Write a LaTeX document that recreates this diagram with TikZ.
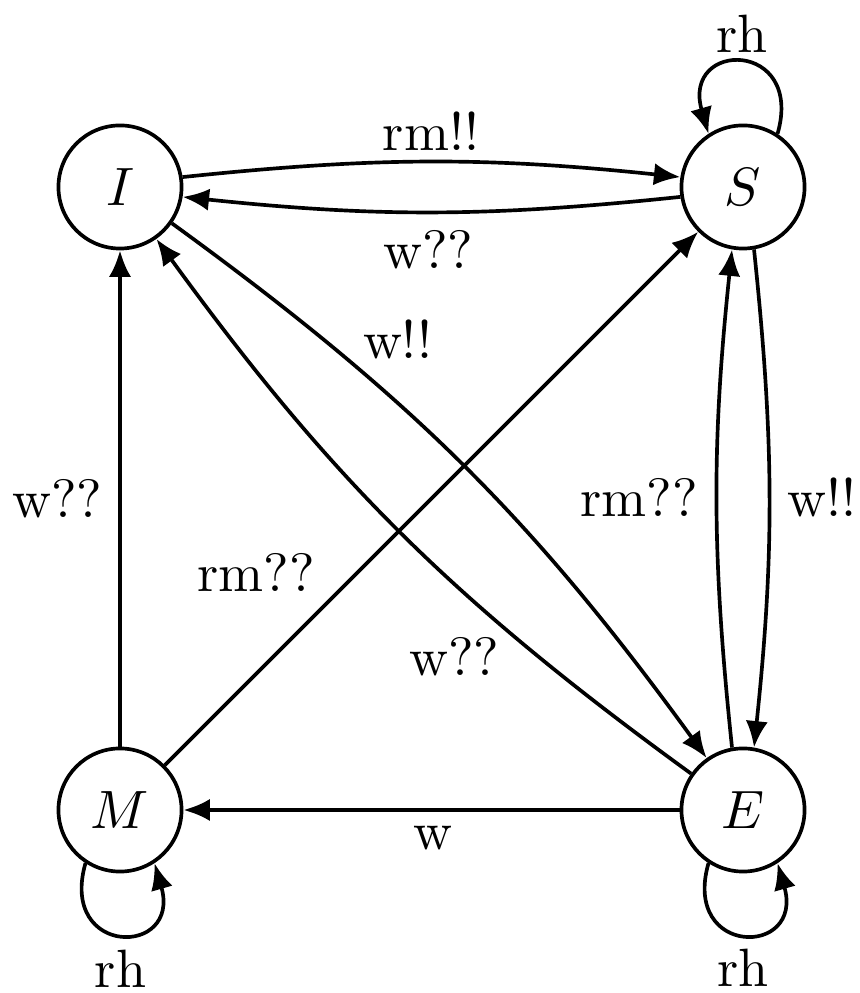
\documentclass[tikz,border=0pt]{standalone}
\usetikzlibrary{arrows.meta}
\begin{document}
\begin{tikzpicture}[x=0.1852pt,y=0.1852pt,line width=0.68pt,
  state/.style={circle,draw,minimum size=22.8pt,inner sep=0pt},
  edge/.style={-{Latex[length=4.9pt,width=4.1pt]}},
  lbl/.style={inner sep=0pt}]
\useasboundingbox (0,0) rectangle (859,993);

% states
\node[state] (I) at (120,806) {$I$};
\node[state] (S) at (743,806) {$S$};
\node[state] (M) at (120,183) {$M$};
\node[state] (E) at (743,183) {$E$};

% transitions between states
\draw[edge] (I.9)   to[bend left=6] (S.171);
\draw[edge] (S.189) to[bend left=6] (I.351);
\draw[edge] (S.-80) to[bend left=6] (E.80);
\draw[edge] (E.100) to[bend left=6] (S.260);
\draw[edge] (I.-35) to[bend left=9] (E.125);
\draw[edge] (E.145) to[bend left=9] (I.-55);
\draw[edge] (M.45) -- (S.225);
\draw[edge] (M) -- (I);
\draw[edge] (E) -- (M);

% self loops
\draw[edge] (S.57)  .. controls +(74:98)  and +(106:98) .. (S.123);
\draw[edge] (M.237) .. controls +(254:98) and +(286:98) .. (M.303);
\draw[edge] (E.237) .. controls +(254:98) and +(286:98) .. (E.303);

% transition labels
\node[lbl] (tIS) at (431,862)   {rm!!};
\node[lbl] (tSI) at (428,743)   {w??};
\node[lbl] (tIE) at (397.5,654) {w!!};
\node[lbl] (tEI) at (454,336.5) {w??};
\node[lbl] (tMI) at (57.5,494)  {w??};
\node[lbl] (tMS) at (256,421)   {rm??};
\node[lbl] (tES) at (639,495.5) {rm??};
\node[lbl] (tSE) at (821.5,495.5) {w!!};
\node[lbl] (tEM) at (433,154.5) {w};
\node[lbl] (tSS) at (742,959.5) {rh};
\node[lbl] (tMM) at (120.5,24)  {rh};
\node[lbl] (tEE) at (743,25)    {rh};
\end{tikzpicture}
\end{document}
